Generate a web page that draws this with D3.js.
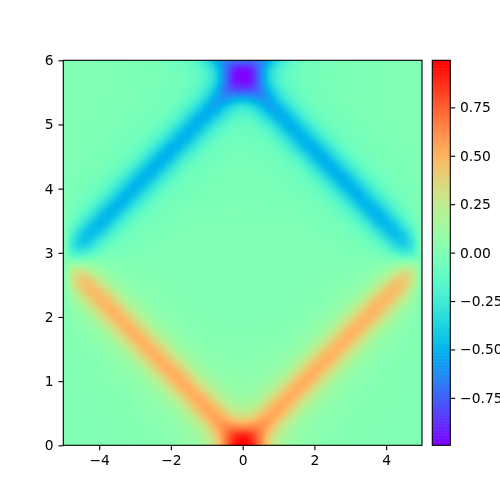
<!DOCTYPE html>
<html>
<head>
<meta charset="utf-8">
<script src="https://cdn.jsdelivr.net/npm/d3@7"></script>
<style>
  body { margin: 0; background: #fff; }
  #chart { position: relative; width: 500px; height: 500px; }
  #chart canvas, #chart svg { position: absolute; left: 0; top: 0; }
  text { font-family: "DejaVu Sans", sans-serif; font-size: 13.89px; fill: #000; }
</style>
</head>
<body>
<div id="chart"></div>
<script>
// sample positions: left half of the picture (it is mirrored about x = 0) and time rows
const xsLeft = [-5, -4.75, -4.5, -4.25, -4, -3.75, -3.5, -3.25, -3, -2.75, -2.5, -2.25, -2, -1.75, -1.5, -1.25, -1, -0.75, -0.5, -0.25, 0];
const ts = [0, 0.15, 0.3, 0.45, 0.6, 0.75, 0.9, 1.05, 1.2, 1.35, 1.5, 1.65, 1.8, 1.95, 2.1, 2.25, 2.4, 2.55, 2.7, 2.85,
  3, 3.15, 3.3, 3.45, 3.6, 3.75, 3.9, 4.05, 4.2, 4.35, 4.5, 4.65, 4.8, 4.95, 5.1, 5.25, 5.4, 5.55, 5.7, 5.85, 6];

// one row per entry of ts, columns as in xsLeft
const fieldLeft = [
  [0,0,0,0,.01,.01,.01,.01,.02,.02,.02,.03,.04,.06,.08,.12,.20,.37,.64,.91,1],
  [0,0,0,0,0,.01,.01,.01,.01,.02,.02,.03,.05,.06,.09,.14,.25,.41,.65,.84,.91],
  [0,0,0,0,0,.01,.01,.01,.01,.02,.03,.04,.05,.08,.12,.21,.34,.52,.61,.62,.60],
  [0,0,0,0,.01,.01,.01,.01,.02,.03,.04,.05,.07,.12,.21,.34,.49,.54,.48,.37,.33],
  [0,0,0,.01,.01,.01,.01,.02,.03,.04,.05,.08,.12,.20,.33,.48,.53,.45,.31,.21,.18],
  [0,0,0,.01,.01,.01,.02,.02,.03,.05,.08,.12,.21,.33,.47,.52,.43,.29,.18,.12,.11],
  [0,0,.01,.01,.01,.02,.02,.03,.05,.07,.12,.21,.34,.48,.51,.41,.27,.17,.11,.08,.07],
  [0,0,.01,.01,.02,.02,.04,.05,.07,.12,.21,.34,.48,.51,.41,.26,.16,.10,.07,.06,.05],
  [0,0,.01,.01,.02,.03,.05,.07,.12,.21,.35,.48,.50,.40,.26,.15,.09,.06,.05,.04,.04],
  [0,.01,.01,.02,.03,.05,.08,.12,.22,.35,.48,.49,.39,.25,.15,.09,.06,.05,.04,.03,.03],
  [0,.01,.02,.03,.04,.07,.12,.22,.35,.48,.48,.38,.24,.13,.08,.05,.04,.03,.03,.02,.02],
  [0,.01,.02,.04,.07,.12,.22,.36,.48,.48,.36,.23,.13,.08,.05,.03,.02,.02,.02,.02,.02],
  [0,.02,.04,.07,.12,.22,.36,.48,.48,.36,.22,.13,.07,.05,.03,.02,.02,.01,.01,.01,.01],
  [0,.03,.06,.12,.23,.37,.48,.47,.35,.22,.12,.07,.05,.03,.02,.02,.01,.01,.01,0,0],
  [0,.05,.11,.22,.37,.48,.47,.34,.21,.12,.07,.04,.03,.02,.01,.01,0,0,0,0,0],
  [0,.09,.22,.37,.47,.46,.34,.20,.11,.07,.04,.02,.02,.01,.01,0,0,0,0,0,0],
  [0,.17,.35,.46,.44,.32,.19,.10,.06,.04,.03,.02,.01,.01,0,0,0,0,0,0,0],
  [0,.26,.41,.42,.29,.17,.09,.05,.03,.02,.02,.01,.01,0,0,0,0,0,0,0,0],
  [0,.24,.31,.23,.14,.07,.04,.02,.02,.01,.01,0,0,0,0,0,0,0,0,0,0],
  [0,.04,.04,.04,.02,.01,.01,0,0,0,0,0,0,0,0,0,0,0,0,0,0],
  [0,-.19,-.24,-.18,-.10,-.05,-.03,-.02,-.02,-.01,-.01,0,0,0,0,0,0,0,0,0,0],
  [0,-.27,-.40,-.37,-.24,-.13,-.07,-.04,-.03,-.02,-.01,-.01,0,0,0,0,0,0,0,0,0],
  [0,-.20,-.39,-.46,-.41,-.27,-.15,-.08,-.05,-.03,-.02,-.02,-.01,-.01,-.01,0,0,0,0,0,0],
  [0,-.11,-.25,-.41,-.48,-.43,-.28,-.16,-.09,-.05,-.04,-.03,-.02,-.01,-.01,-.01,-.01,-.01,-.01,-.01,-.01],
  [0,-.05,-.14,-.26,-.42,-.49,-.44,-.29,-.17,-.10,-.06,-.04,-.03,-.02,-.01,-.01,-.01,-.01,-.01,-.01,-.01],
  [0,-.03,-.07,-.15,-.27,-.42,-.49,-.45,-.30,-.18,-.10,-.06,-.04,-.03,-.02,-.02,-.02,-.02,-.01,-.01,-.01],
  [0,-.02,-.04,-.08,-.15,-.26,-.41,-.50,-.45,-.31,-.19,-.10,-.07,-.05,-.04,-.03,-.02,-.02,-.02,-.02,-.02],
  [0,-.02,-.03,-.05,-.08,-.15,-.27,-.41,-.50,-.46,-.32,-.19,-.11,-.07,-.05,-.04,-.03,-.02,-.02,-.02,-.02],
  [0,-.01,-.02,-.03,-.05,-.09,-.15,-.26,-.41,-.50,-.47,-.33,-.20,-.11,-.07,-.05,-.04,-.03,-.02,-.02,-.02],
  [0,-.01,-.02,-.02,-.03,-.05,-.08,-.15,-.26,-.40,-.50,-.47,-.34,-.20,-.11,-.08,-.05,-.04,-.03,-.03,-.03],
  [0,-.01,-.01,-.02,-.02,-.03,-.05,-.08,-.14,-.25,-.40,-.50,-.48,-.34,-.21,-.13,-.07,-.06,-.04,-.04,-.03],
  [0,-.01,-.01,-.01,-.02,-.02,-.04,-.05,-.08,-.14,-.25,-.39,-.50,-.48,-.36,-.22,-.13,-.08,-.06,-.05,-.04],
  [0,-.01,-.01,-.01,-.01,-.02,-.03,-.04,-.05,-.08,-.14,-.24,-.38,-.49,-.48,-.36,-.23,-.13,-.09,-.07,-.07],
  [0,0,-.01,-.01,-.01,-.01,-.02,-.03,-.04,-.05,-.08,-.13,-.24,-.38,-.49,-.49,-.37,-.23,-.15,-.10,-.10],
  [0,0,-.01,-.01,-.01,-.01,-.01,-.02,-.03,-.04,-.05,-.08,-.13,-.23,-.38,-.50,-.50,-.39,-.27,-.18,-.15],
  [0,0,0,-.01,-.01,-.01,-.01,-.01,-.02,-.03,-.04,-.05,-.08,-.14,-.24,-.38,-.51,-.53,-.42,-.31,-.26],
  [0,0,0,-.01,-.01,-.01,-.01,-.01,-.01,-.02,-.03,-.04,-.05,-.08,-.14,-.24,-.39,-.54,-.60,-.55,-.52],
  [0,0,0,0,-.01,-.01,-.01,-.01,-.02,-.02,-.03,-.04,-.05,-.07,-.10,-.16,-.28,-.46,-.68,-.80,-.83],
  [0,0,0,-.01,-.01,-.01,-.01,-.01,-.02,-.02,-.02,-.03,-.04,-.05,-.08,-.12,-.21,-.38,-.66,-.92,-.99],
  [0,0,0,0,-.01,-.01,-.01,-.01,-.02,-.02,-.03,-.03,-.05,-.06,-.09,-.14,-.23,-.39,-.66,-.89,-.96],
  [0,0,0,0,-.01,-.01,-.01,-.01,-.02,-.02,-.03,-.04,-.05,-.08,-.11,-.18,-.32,-.50,-.66,-.72,-.72],
];

const xTicks = [-4, -2, 0, 2, 4];
const yTicks = [0, 1, 2, 3, 4, 5, 6];
const cbarTicks = [-0.75, -0.5, -0.25, 0, 0.25, 0.5, 0.75];
const valueExtent = [-0.995, 0.993];

// matplotlib "rainbow"
function rainbow(v) {
  const p = (v - valueExtent[0]) / (valueExtent[1] - valueExtent[0]);
  const q = Math.max(0, Math.min(1, p));
  return [
    Math.min(1, Math.abs(2 * q - 0.5)) * 255,
    Math.sin(Math.PI * q) * 255,
    Math.cos(Math.PI * q / 2) * 255,
  ];
}

const plot = { left: 63.3, right: 422, top: 60.3, bottom: 445.3 };
const cbar = { left: 432.3, right: 450.3 };

const xScale = d3.scaleLinear().domain([-5, 5]).range([plot.left, plot.right]);
const yScale = d3.scaleLinear().domain([0, 6]).range([plot.bottom, plot.top]);
const cScale = d3.scaleLinear().domain(valueExtent).range([plot.bottom, plot.top]);

// full rows, mirrored about x = 0
const xs = xsLeft.concat(xsLeft.slice(0, -1).reverse().map((d) => -d));
const field = fieldLeft.map((row) => row.concat(row.slice(0, -1).reverse()));

// Catmull-Rom weights, bilinear left beads along the diagonals
function weights(u) {
  return [
    0.5 * (-u * u * u + 2 * u * u - u),
    0.5 * (3 * u * u * u - 5 * u * u + 2),
    0.5 * (-3 * u * u * u + 4 * u * u + u),
    0.5 * (u * u * u - u * u),
  ];
}

function sample(x, t) {
  const i = Math.max(0, Math.min(xs.length - 2, d3.bisectRight(xs, x) - 1));
  const j = Math.max(0, Math.min(ts.length - 2, d3.bisectRight(ts, t) - 1));
  const wx = weights(Math.max(0, Math.min(1, (x - xs[i]) / (xs[i + 1] - xs[i]))));
  const wt = weights(Math.max(0, Math.min(1, (t - ts[j]) / (ts[j + 1] - ts[j]))));
  let sum = 0;
  for (let b = 0; b < 4; b++) {
    const row = field[Math.max(0, Math.min(ts.length - 1, j + b - 1))];
    for (let a = 0; a < 4; a++) {
      sum += wt[b] * wx[a] * row[Math.max(0, Math.min(xs.length - 1, i + a - 1))];
    }
  }
  return sum;
}

const chart = d3.select('#chart');

const canvas = chart.append('canvas').attr('width', 500).attr('height', 500).node();
const ctx = canvas.getContext('2d');
const x0 = Math.floor(plot.left);
const y0 = Math.floor(plot.top);
const w = Math.ceil(plot.right) - x0;
const h = Math.ceil(plot.bottom) - y0;
const image = ctx.createImageData(w, h);
for (let py = 0; py < h; py++) {
  for (let px = 0; px < w; px++) {
    const c = rainbow(sample(xScale.invert(x0 + px + 0.5), yScale.invert(y0 + py + 0.5)));
    const k = (py * w + px) * 4;
    image.data[k] = c[0];
    image.data[k + 1] = c[1];
    image.data[k + 2] = c[2];
    image.data[k + 3] = 255;
  }
}
ctx.putImageData(image, x0, y0);

const svg = chart.append('svg').attr('width', 500).attr('height', 500);

// colorbar, one thin band per level
const levels = d3.range(0, 256).map((i) => valueExtent[0] + (valueExtent[1] - valueExtent[0]) * i / 255);
const bandHeight = (plot.bottom - plot.top) / 255;
svg.append('g')
  .selectAll('rect')
  .data(levels)
  .join('rect')
  .attr('x', cbar.left)
  .attr('width', cbar.right - cbar.left)
  .attr('y', (d) => cScale(d) - bandHeight / 2 - 0.3)
  .attr('height', bandHeight + 0.6)
  .attr('fill', (d) => {
    const c = rainbow(d);
    return `rgb(${c[0]},${c[1]},${c[2]})`;
  });
// trim the bands that spill past the ends
svg.append('rect').attr('x', cbar.left - 1).attr('y', plot.top - 3).attr('width', 20).attr('height', 3).attr('fill', '#fff');
svg.append('rect').attr('x', cbar.left - 1).attr('y', plot.bottom).attr('width', 20).attr('height', 3).attr('fill', '#fff');

const tickLen = 4.86;

function styleAxis(g) {
  g.selectAll('.domain').remove();
  g.selectAll('line').attr('stroke', '#000').attr('stroke-width', 1.11);
  g.selectAll('text').attr('fill', '#000').style('font-size', '13.89px').attr('font-family', null);
}

svg.append('g')
  .attr('transform', `translate(0,${plot.bottom})`)
  .call(d3.axisBottom(xScale).tickValues(xTicks).tickFormat(d3.format('d')).tickSize(tickLen).tickPadding(4.86))
  .call(styleAxis);

svg.append('g')
  .attr('transform', `translate(${plot.left},0)`)
  .call(d3.axisLeft(yScale).tickValues(yTicks).tickFormat(d3.format('d')).tickSize(tickLen).tickPadding(4.86))
  .call(styleAxis);

svg.append('g')
  .attr('transform', `translate(${cbar.right},0)`)
  .call(d3.axisRight(cScale).tickValues(cbarTicks).tickFormat(d3.format('.2f')).tickSize(tickLen).tickPadding(4.86))
  .call(styleAxis);

// spines
svg.append('rect')
  .attr('x', plot.left).attr('y', plot.top)
  .attr('width', plot.right - plot.left).attr('height', plot.bottom - plot.top)
  .attr('fill', 'none').attr('stroke', '#000').attr('stroke-width', 1.11);
svg.append('rect')
  .attr('x', cbar.left).attr('y', plot.top)
  .attr('width', cbar.right - cbar.left).attr('height', plot.bottom - plot.top)
  .attr('fill', 'none').attr('stroke', '#000').attr('stroke-width', 1.11);
</script>
</body>
</html>
